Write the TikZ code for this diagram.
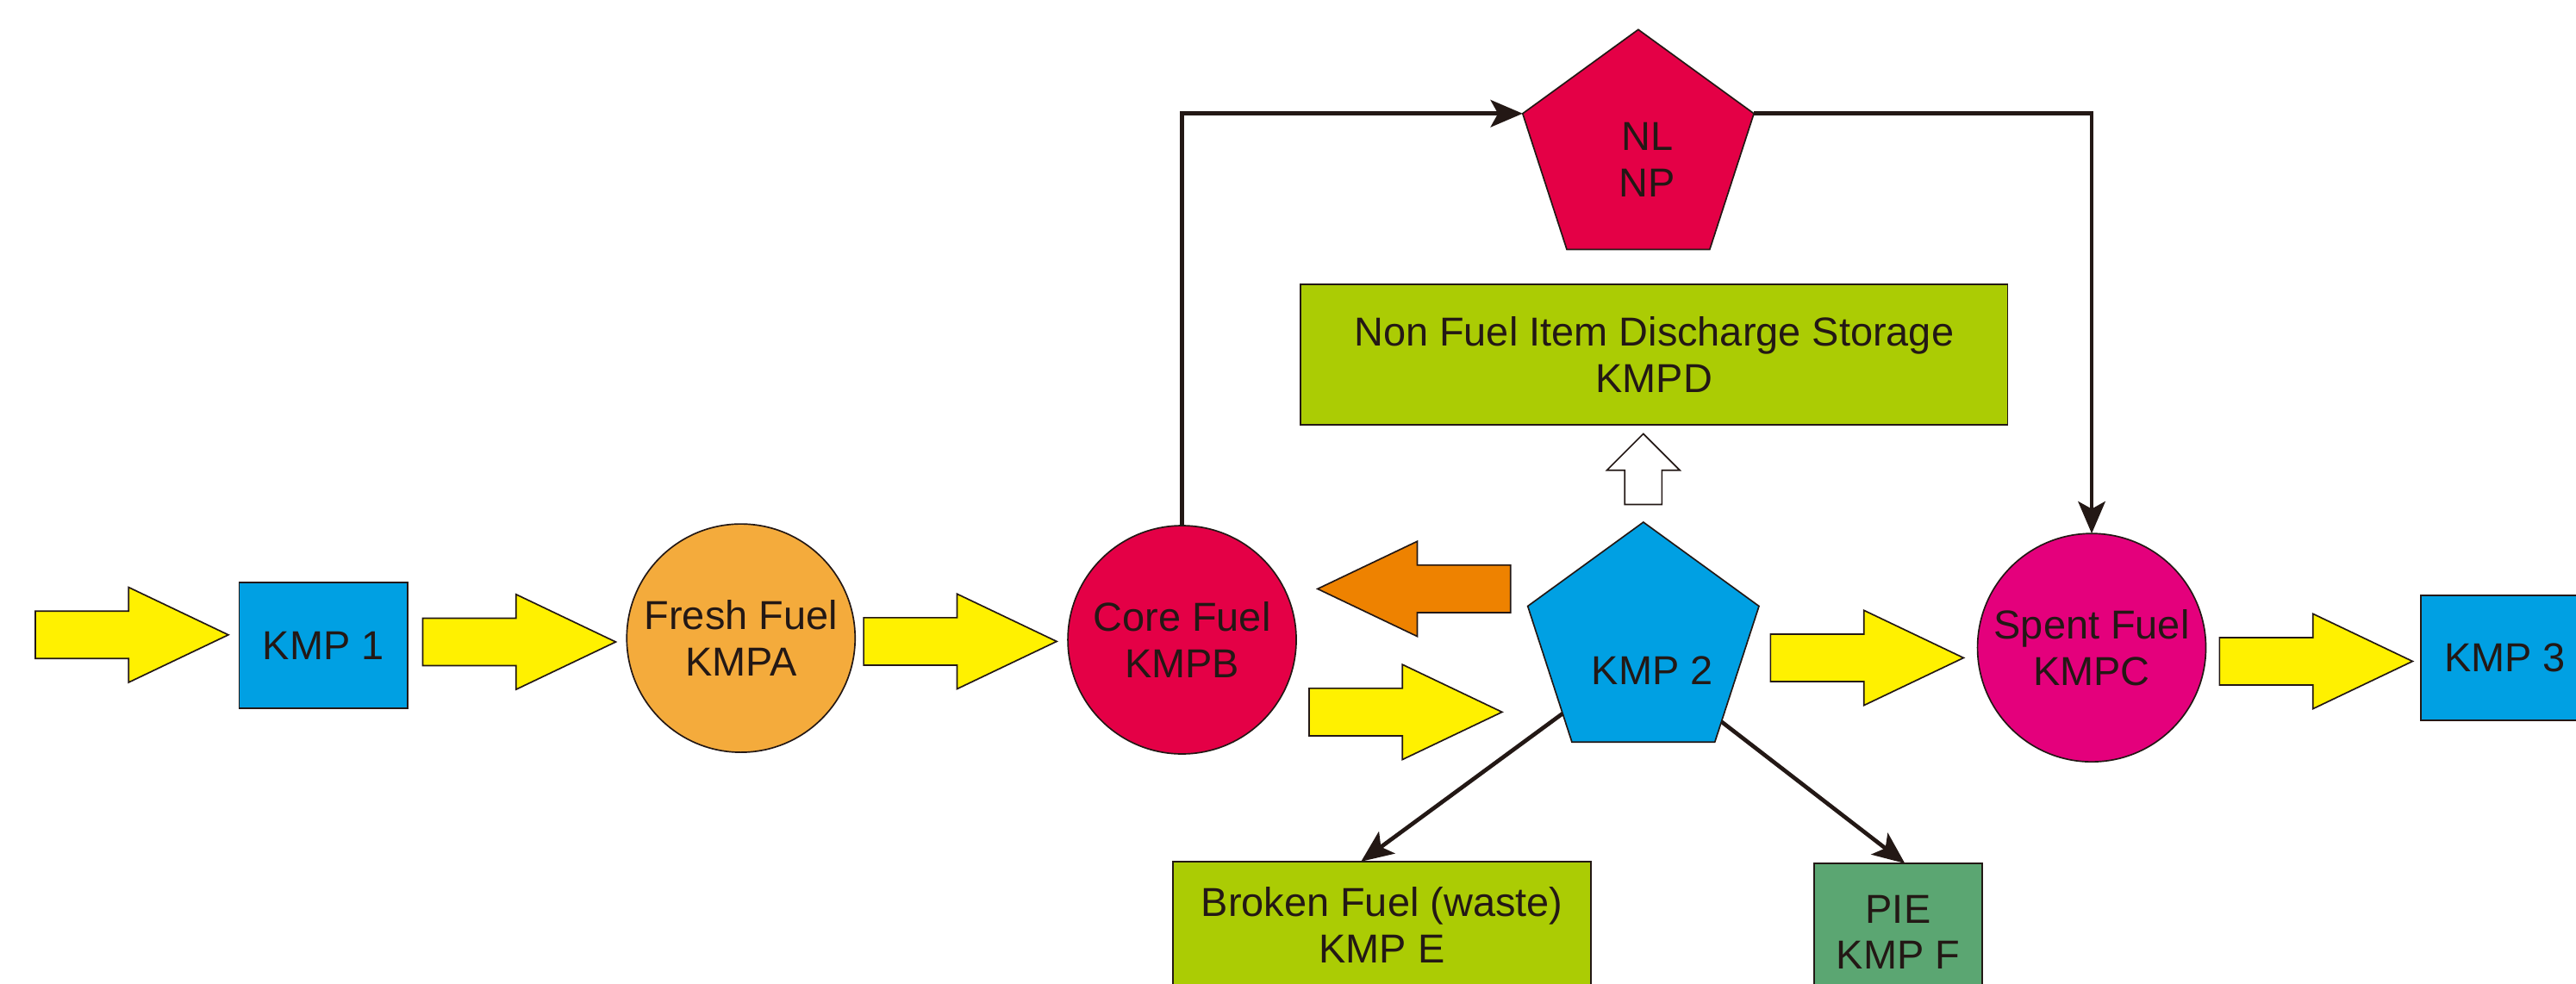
\documentclass[tikz,border=0pt]{standalone}
\usepackage{fontspec}
\setmainfont{Liberation Sans}
\usetikzlibrary{arrows.meta, shapes.geometric, shapes.arrows, calc}
\definecolor{kmpblue}{RGB}{0,160,227}
\definecolor{flowyellow}{RGB}{255,241,0}
\definecolor{freshorange}{RGB}{244,171,60}
\definecolor{corered}{RGB}{228,0,70}
\definecolor{spentpink}{RGB}{228,0,124}
\definecolor{returnorange}{RGB}{238,130,0}
\definecolor{storegreen}{RGB}{171,204,4}
\definecolor{piegreen}{RGB}{91,166,114}
\definecolor{inkdark}{RGB}{35,24,21}

\begin{document}
\begin{tikzpicture}[
  x=0.2mm, y=-0.2mm,
  font=\fontsize{14}{16}\selectfont, text=inkdark,
  box/.style={rectangle, draw=inkdark, line width=0.5pt, align=center, inner sep=0pt, outer sep=0pt},
  disc/.style={circle, draw=inkdark, line width=0.5pt, align=center, inner sep=0pt, outer sep=0pt, minimum size=27.8mm},
  penta/.style={regular polygon, regular polygon sides=5, draw=inkdark, line width=0.5pt, inner sep=0pt, outer sep=0pt, minimum size=29.6mm},
  flow/.style={single arrow, draw=inkdark, line width=0.5pt, fill=flowyellow, inner xsep=0pt, inner ysep=2.8mm, outer sep=0pt, single arrow head extend=2.9mm, single arrow tip angle=51, minimum height=23.5mm, anchor=tip},
  link/.style={draw=inkdark, line width=1.4pt, -{Stealth[length=3.9mm, width=3.3mm, inset=0.9mm]}}
]
\useasboundingbox (0,0) rectangle (1568,599);
\node[flow] (in1) at (139,386.5) {};
\node[box, fill=kmpblue, minimum width=20.5mm, minimum height=15.3mm] (kmp1) at (196.8,392.9) {KMP 1};
\node[flow] (a1) at (374.8,390.8) {};
\node[disc, fill=freshorange] (fresh) at (451,388.5) {Fresh Fuel\\KMPA};
\node[flow] (a2) at (643.2,390.5) {};
\node[disc, fill=corered] (core) at (719.5,389.5) {Core Fuel\\KMPB};
\node[flow, fill=returnorange, rotate=180] (back) at (802,358.5) {};
\node[flow] (a3) at (914.3,433.5) {};
\node[penta, fill=kmpblue, label={[xshift=1.1mm, yshift=-3.3mm]center:KMP 2}] (kmp2) at (1000.3,391.9) {};
\node[flow, fill=white, rotate=90, minimum height=8.6mm, inner ysep=2.17mm, single arrow head extend=2.17mm, single arrow tip angle=90] (up) at (1000.3,264.1) {};
\node[box, fill=storegreen, minimum width=86.1mm, minimum height=17.1mm] (kmpd) at (1006.8,215.8) {Non Fuel Item Discharge Storage\\KMPD};
\node[penta, fill=corered, label={[align=center, xshift=1.1mm, yshift=-1.04mm]center:NL\\NP}] (nlnp) at (997.2,92) {};
\node[flow] (a4) at (1195.2,400.5) {};
\node[disc, fill=spentpink] (spent) at (1273.2,394.3) {Spent Fuel\\KMPC};
\node[flow] (a5) at (1468.5,402.6) {};
\node[box, fill=kmpblue, minimum width=20.5mm, minimum height=15.2mm] (kmp3) at (1524.8,400.5) {KMP 3};
\node[box, fill=storegreen, minimum width=50.9mm, minimum height=15.4mm] (broken) at (841.2,563) {Broken Fuel (waste)\\KMP E};
\node[box, fill=piegreen, minimum width=20.4mm, minimum height=16.8mm] (pie) at (1155.4,567.6) {PIE\\KMP F};
\draw[link] (core.north) |- (nlnp.corner 2); \draw[link] (nlnp.corner 5) -| (spent.north);
\draw[link] ($(kmp2.corner 2)!0.79!(kmp2.corner 3)$) -- ($(broken.north west)!0.45!(broken.north east)$);
\draw[link] ($(kmp2.corner 5)!0.85!(kmp2.corner 4)$) -- ($(pie.north west)!0.54!(pie.north east)$);
\end{tikzpicture}
\end{document}
